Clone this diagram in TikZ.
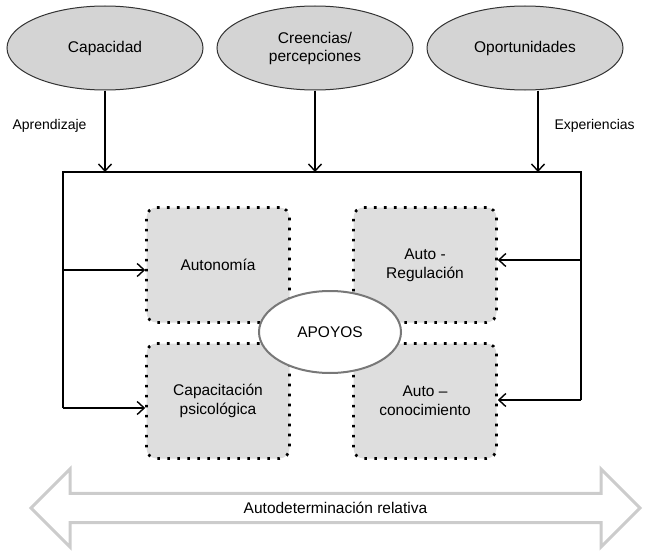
\documentclass[tikz,border=0pt]{standalone}
\usepackage{fontspec}
\setmainfont{Liberation Sans}
\usetikzlibrary{positioning}
\usetikzlibrary{calc}
\usetikzlibrary{shapes.geometric}
\usetikzlibrary{shapes.arrows}
\usetikzlibrary{arrows.meta}

\definecolor{ovalgray}{RGB}{212,212,212}
\definecolor{boxgray}{RGB}{222,222,222}
\definecolor{rimgray}{RGB}{120,120,120}

\tikzset{
    oval/.style={ellipse, draw=black!80, line width=1pt, fill=ovalgray,
        minimum width=196pt, minimum height=84pt, align=center,
        font=\fontsize{15.5}{18}\selectfont},
    dotbox/.style={draw, rounded corners=10pt, fill=boxgray, line width=2.6pt,
        dash pattern=on 2.6pt off 7.4pt, minimum width=143pt, minimum height=115pt,
        align=center, font=\fontsize{15.5}{19}\selectfont},
    arr/.style={-{Straight Barb[length=7pt,width=13pt,line width=1.4pt]}, line width=1.3pt},
    lbl/.style={anchor=west, font=\fontsize{14}{16}\selectfont}
}

\begin{document}
\begin{tikzpicture}[x=1pt, y=-1pt]
    \useasboundingbox (0, 0) rectangle (656, 551);

    \node[oval] (cap) at (105, 48) {Capacidad};
    \node[oval] (cre) at (315, 48) {Creencias/\\percepciones};
    \node[oval] (opo) at (525, 48) {Oportunidades};

    \node[lbl] (apr) at (9, 126) {Aprendizaje};
    \node[lbl] (exp) at (551, 126) {Experiencias};

    \coordinate (tl) at (63, 172);
    \coordinate (tr) at (581, 172);

    \draw[arr] (cap.south) -- (cap.south |- tl);
    \draw[arr] (cre.south) -- (cre.south |- tl);
    \draw[arr] ($(opo.south)+(13, 0)$) -- ($(opo.south |- tr)+(13, 0)$);

    \node[dotbox] (auton) at (218, 265) {Autonomía};
    \node[dotbox] (regul) at (425, 265) {Auto -\\Regulación};
    \node[dotbox] (capsi) at (218, 401) {Capacitación\\psicológica};
    \node[dotbox] (conoc) at (425, 401) {Auto --\\conocimiento};

    \node[ellipse, draw=rimgray, line width=2pt, fill=white, minimum width=142pt,
        minimum height=82pt, font=\fontsize{15.5}{18}\selectfont] (apoyos) at (330, 332) {APOYOS};

    % frame around the four boxes
    \coordinate (lb) at (63, 408);
    \coordinate (rb) at (581, 400);
    \draw[line width=1.3pt] (lb) -- (tl) -- (tr) -- (rb);
    \draw[arr] (63, 270) -- (auton.west |- 0, 270);
    \draw[arr] (lb) -- (capsi.west |- lb);
    \draw[arr] (581, 260) -- (regul.east |- 0, 260);
    \draw[arr] (rb) -- (conoc.east |- rb);

    \node[double arrow, draw=black!20, line width=3pt, fill=white,
        minimum height=609pt, minimum width=78pt, double arrow head extend=17.5pt,
        font=\fontsize{15.5}{18}\selectfont] (rel) at (335.5, 508) {Autodeterminación relativa};
\end{tikzpicture}
\end{document}
